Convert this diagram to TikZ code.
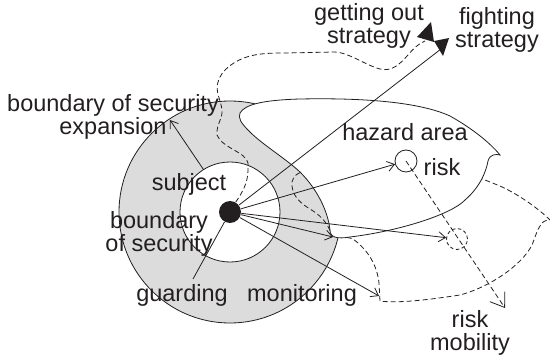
\documentclass[tikz,border=0pt]{standalone}
\usepackage{fontspec}
\setmainfont{Liberation Sans}
\usetikzlibrary{arrows.meta}
\definecolor{ink}{RGB}{35,31,32}
\definecolor{ring}{RGB}{220,220,220}
\begin{document}
\begin{tikzpicture}[x=1pt,y=-1pt,line width=0.8pt,color=ink,
  lbl/.style={font=\fontsize{23.5}{22.5}\selectfont,inner sep=0pt,text=ink},
  mlbl/.style={lbl,align=center},
  arr/.style={-{Straight Barb[length=7pt,width=10pt]}},
  bigarr/.style={-{Straight Barb[length=13pt,width=18pt]}},
  dsh/.style={dash pattern=on 5pt off 3pt},
  sdsh/.style={dash pattern=on 3.5pt off 2.5pt}]
\useasboundingbox (0,0) rectangle (550,356);
% outer ring
\node[circle,draw,fill=ring,minimum size=222pt,inner sep=0pt] (outer) at (230,212) {};
% moved hazard area (dashed)
\draw[dsh] (315,168) .. controls (300,171) and (293,175) .. (292,182)
  .. controls (291,195) and (300,203) .. (310,209)
  .. controls (320,215) and (327,222) .. (331,233)
  .. controls (335,237) and (345,236) .. (353,239)
  .. controls (368,250) and (377,265) .. (379,283) -- (380,301)
  .. controls (400,304) and (440,298) .. (460,295)
  .. controls (490,287) and (522,265) .. (532,245)
  .. controls (535,238) and (537,230) .. (540,226)
  .. controls (542,222) and (545,220) .. (550,220)
  .. controls (540,210) and (520,195) .. (500,186)
  .. controls (490,182) and (480,178) .. (470,174);
% hazard area
\draw[fill=white] (240,113) .. controls (245,104) and (265,100) .. (300,99)
  .. controls (350,98) and (415,100) .. (450,116)
  .. controls (475,130) and (492,145) .. (500,155)
  .. controls (496,154) and (490,154) .. (488,161)
  .. controls (486,172) and (480,187) .. (465,200)
  .. controls (452,214) and (400,231) .. (350,237)
  .. controls (338,239) and (330,238) .. (330,230)
  .. controls (328,212) and (318,190) .. (300,172)
  .. controls (285,158) and (260,143) .. (248,130)
  .. controls (241,123) and (238,118) .. (240,113) -- cycle;
% inner circle
\node[circle,draw,fill=white,minimum size=100pt,inner sep=0pt] (inner) at (230,212) {};
% risks
\node[circle,draw,minimum size=22pt,inner sep=0pt] (risk) at (406,161) {};
\node[circle,draw,sdsh,minimum size=21pt,inner sep=0pt] (mrisk) at (457,239) {};
% subject dot
\node[circle,fill=ink,minimum size=22pt,inner sep=0pt] (dot) at (230,212) {};
% coordinates
\coordinate (fbase) at (441,49);
\coordinate (gend) at (425,41);
\coordinate (hzc) at (333,237);
\coordinate (mon) at (379,296);
\coordinate (grd) at (193,279);
\coordinate (expT) at (170,120);
\coordinate (mtip) at (505,308);
% connectors
\draw (dot) -- (fbase);
\draw[arr] (dot) -- (risk);
\draw[arr] (dot) -- (mrisk);
\draw[arr] (dot) -- (hzc);
\draw[arr] (dot) -- (mon);
\draw (dot) -- (grd);
\draw[arr] (inner.122) -- (expT);
\draw[dsh,bigarr] (risk.center) -- (mtip);
\draw[dsh] (dot.60) .. controls (242,193) and (248,183) .. (248,170) -- (248,163)
  .. controls (246,152) and (222,148) .. (217,135)
  .. controls (216,125) and (223,118) .. (222,110)
  .. controls (221,100) and (215,92) .. (218,82)
  .. controls (221,70) and (235,60) .. (250,56)
  .. controls (262,53) and (275,53) .. (285,53) -- (335,52)
  .. controls (350,53) and (365,65) .. (380,69)
  .. controls (392,72) and (400,64) .. (408,55)
  .. controls (413,49) and (418,44) .. (gend);
% strategy arrowheads
\fill[ink] (417,37) -- (431,22) -- (434,42) -- cycle;
\fill[ink] (434,41) -- (449,38) -- (443,56) -- cycle;
% labels
\node[mlbl] (lgo) at (369,26) {getting out\\strategy};
\node[mlbl] (lfs) at (497,30) {fighting\\strategy};
\node[mlbl] (lbe) at (113,117) {boundary of security\\expansion};
\node[lbl,anchor=base] (lha) at (405,140) {hazard area};
\node[lbl,anchor=base] (lrk) at (442,175) {risk};
\node[lbl,anchor=base] (lsu) at (189,190) {subject};
\node[mlbl] (lbs) at (159,234) {boundary\\of security};
\node[lbl,anchor=base] (lgu) at (182,301) {guarding};
\node[lbl,anchor=base] (lmo) at (302,301) {monitoring};
\node[mlbl] (lrm) at (470,333) {risk\\mobility};
\end{tikzpicture}
\end{document}
